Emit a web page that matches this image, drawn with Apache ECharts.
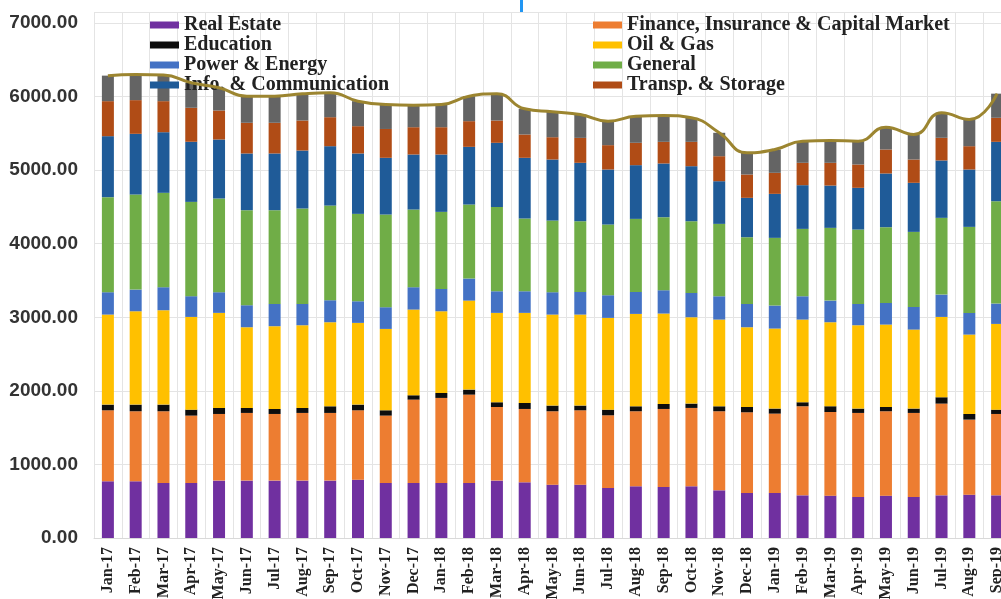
<!DOCTYPE html>
<html>
<head>
<meta charset="utf-8">
<title>Sectoral credit</title>
<script src="https://cdn.jsdelivr.net/npm/echarts@6/dist/echarts.min.js"></script>
<style>
    html, body { margin: 0; padding: 0; background: #fff; }
    #chart { width: 1001px; height: 599px; }
</style>
</head>
<body>
<div id="chart"></div>
<script>
// 月份
const months = ['Jan-17', 'Feb-17', 'Mar-17', 'Apr-17', 'May-17', 'Jun-17', 'Jul-17', 'Aug-17', 'Sep-17', 'Oct-17', 'Nov-17', 'Dec-17',
    'Jan-18', 'Feb-18', 'Mar-18', 'Apr-18', 'May-18', 'Jun-18', 'Jul-18', 'Aug-18', 'Sep-18', 'Oct-18', 'Nov-18', 'Dec-18',
    'Jan-19', 'Feb-19', 'Mar-19', 'Apr-19', 'May-19', 'Jun-19', 'Jul-19', 'Aug-19', 'Sep-19'];

// 各行业数值（从下往上堆叠）
const realEstate = [771, 771, 748, 748, 780, 780, 780, 780, 780, 793, 748, 748, 748, 748, 780, 757, 725, 725, 680, 703, 694, 703, 648, 612, 612, 580, 576, 558, 576, 558, 580, 589, 580];
const finance = [965, 952, 975, 916, 906, 920, 906, 920, 920, 943, 916, 1133, 1156, 1201, 1001, 997, 998, 1011, 988, 1020, 1060, 1065, 1075, 1097, 1079, 1211, 1137, 1142, 1147, 1142, 1247, 1020, 1106];
const education = [77, 90, 90, 81, 82, 68, 68, 68, 90, 77, 72, 59, 68, 68, 64, 82, 77, 64, 77, 67, 68, 59, 67, 72, 68, 54, 78, 59, 58, 59, 86, 77, 59];
const oilGas = [1224, 1269, 1283, 1260, 1292, 1097, 1125, 1124, 1143, 1111, 1106, 1165, 1110, 1210, 1215, 1224, 1237, 1237, 1247, 1256, 1229, 1174, 1179, 1084, 1088, 1124, 1142, 1133, 1120, 1074, 1092, 1079, 1165];
const powerEnergy = [304, 295, 313, 282, 281, 299, 303, 290, 299, 294, 295, 304, 304, 300, 294, 294, 304, 308, 308, 299, 317, 331, 317, 317, 313, 317, 294, 290, 295, 308, 304, 295, 277];
const general = [1292, 1292, 1283, 1282, 1274, 1292, 1274, 1297, 1287, 1188, 1260, 1056, 1047, 1006, 1147, 989, 974, 961, 961, 993, 993, 974, 984, 907, 920, 916, 989, 1011, 1029, 1020, 1043, 1169, 1391];
const infoComm = [829, 825, 824, 817, 802, 771, 771, 788, 807, 821, 771, 748, 780, 784, 871, 825, 830, 794, 748, 730, 730, 748, 580, 535, 598, 594, 575, 567, 730, 667, 780, 780, 807];
const transport = [476, 458, 422, 462, 394, 417, 417, 408, 394, 371, 392, 371, 371, 349, 303, 317, 303, 339, 331, 304, 294, 331, 340, 317, 286, 304, 309, 317, 326, 317, 308, 317, 327];
const others = [347, 348, 354, 340, 309, 362, 362, 363, 332, 340, 333, 300, 309, 340, 363, 349, 345, 318, 326, 362, 358, 327, 318, 295, 317, 294, 303, 317, 303, 340, 340, 363, 328];

// y轴刻度
const yTicks = [0, 1000, 2000, 3000, 4000, 5000, 6000, 7000];

const sectors = [
    { name: 'Real Estate', data: realEstate, color: '#7030A0' },
    { name: 'Finance, Insurance & Capital Market', data: finance, color: '#ED7D31' },
    { name: 'Education', data: education, color: '#0d0d0d' },
    { name: 'Oil & Gas', data: oilGas, color: '#FFC000' },
    { name: 'Power & Energy', data: powerEnergy, color: '#4472C4' },
    { name: 'General', data: general, color: '#70AD47' },
    { name: 'Info. & Communication', data: infoComm, color: '#1F5B98' },
    { name: 'Transp. & Storage', data: transport, color: '#B04C16' },
    { name: 'Others', data: others, color: '#646464' }
];

// 合计 = 各行业之和
const totals = months.map((m, i) => sectors.reduce((s, sec) => s + sec.data[i], 0));

const serifFont = '"Liberation Serif", "DejaVu Serif", serif';

const legendText = {
    fontFamily: serifFont,
    fontWeight: 'bold',
    fontSize: 20,
    color: '#222'
};

const series = sectors.map(sec => ({
    name: sec.name,
    type: 'bar',
    stack: 'total',
    barWidth: 12,
    itemStyle: { color: sec.color },
    data: sec.data
}));

series.push({
    name: 'Total',
    type: 'line',
    smooth: true,
    showSymbol: false,
    symbol: 'none',
    z: 5,
    lineStyle: { color: '#9C8530', width: 3 },
    data: totals
});

var chart = echarts.init(document.getElementById('chart'), null, { renderer: 'canvas' });

var option = {
    animation: false,
    backgroundColor: '#fff',
    // 右边故意超出画布，最后一根柱子被切掉一半
    grid: { left: 94, top: 12, right: -10, bottom: 61, outerBoundsMode: 'none' },
    legend: [
        {
            orient: 'vertical',
            left: 145,
            top: 10,
            itemWidth: 29,
            itemHeight: 7,
            itemGap: 0,
            icon: 'rect',
            textStyle: legendText,
            data: ['Real Estate', 'Education', 'Power & Energy', 'Info. & Communication']
        },
        {
            orient: 'vertical',
            left: 588,
            top: 10,
            itemWidth: 29,
            itemHeight: 7,
            itemGap: 0,
            icon: 'rect',
            textStyle: legendText,
            data: ['Finance, Insurance & Capital Market', 'Oil & Gas', 'General', 'Transp. & Storage']
        }
    ],
    xAxis: {
        type: 'category',
        data: months,
        axisLine: { lineStyle: { color: '#d9d9d9' } },
        axisTick: { show: false },
        splitLine: { show: true, lineStyle: { color: '#e4e4e4', width: 1 } },
        axisLabel: {
            rotate: 90,
            interval: 0,
            margin: 9,
            fontFamily: serifFont,
            fontWeight: 'bold',
            fontSize: 16,
            color: '#222'
        }
    },
    yAxis: {
        type: 'value',
        min: 0,
        max: 7150,
        interval: 1000,
        axisLine: { show: false },
        axisTick: { show: false },
        splitLine: { lineStyle: { color: '#e4e4e4', width: 1 } },
        axisLabel: {
            margin: 16,
            fontFamily: '"Liberation Sans", Arial, sans-serif',
            fontWeight: 'bold',
            fontSize: 19,
            color: '#333',
            formatter: function (v) {
                return yTicks.indexOf(v) >= 0 ? v.toFixed(2) : '';
            }
        }
    },
    graphic: [
        // 顶部那条蓝色小竖线
        { type: 'rect', left: 520, top: 0, shape: { width: 3, height: 13 }, style: { fill: '#2196F3' } }
    ],
    series: series
};

chart.setOption(option);
</script>
</body>
</html>
